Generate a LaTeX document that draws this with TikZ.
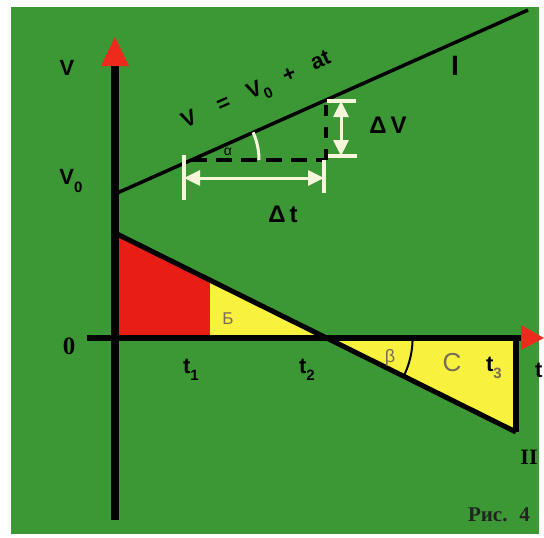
\documentclass[tikz,border=0pt]{standalone}
\usepackage{fontspec}
\setmainfont{Liberation Sans}
\newfontfamily\serf{Liberation Serif}
\usetikzlibrary{arrows.meta}
\definecolor{bggreen}{RGB}{60,152,52}
\definecolor{redfill}{RGB}{232,30,22}
\definecolor{yelfill}{RGB}{248,242,62}
\definecolor{arrred}{RGB}{238,42,28}
\definecolor{wht}{RGB}{246,246,218}
\definecolor{greylab}{RGB}{120,108,88}
\definecolor{figtext}{RGB}{35,35,35}
\newcommand{\lsub}[1]{\raisebox{-0.32em}{\fontsize{15}{15}\selectfont #1}}
\begin{document}
\begin{tikzpicture}[x=1pt,y=-1pt,
  lab/.style={inner sep=0pt, text=black, font=\bfseries\fontsize{22}{22}\selectfont},
  whitearrow/.style={draw=wht, line width=3pt, {Triangle[width=15pt,length=16pt,fill=wht]}-{Triangle[width=15pt,length=16pt,fill=wht]}},
  whitebar/.style={draw=wht, line width=4pt}]
\useasboundingbox (0,0) rectangle (544,538);
\fill[white] (0,0) rectangle (544,538);
\fill[bggreen] (11,7) rectangle (539,534);

% key points
\coordinate (vb) at (115,520);
\coordinate (vt) at (115,64);
\coordinate (vtip) at (115,37);
\coordinate (tl) at (87,338);
\coordinate (tr) at (522,338);
\coordinate (ttip) at (544,338);
\coordinate (o) at (115,338);
\coordinate (i0) at (115,194);
\coordinate (i1) at (528,10);
\coordinate (ii0) at (115,233);
\coordinate (ii1) at (516,432);
\coordinate (z) at (326.6,338);
\coordinate (p1) at (210,280);
\coordinate (q1) at (210,338);
\coordinate (e3) at (516,338);
\coordinate (d0) at (191,160);
\coordinate (d1) at (326,160);
\coordinate (d2) at (326,100);

% areas
\fill[redfill] (ii0) -- (p1) -- (q1) -- (o) -- cycle;
\fill[yelfill] (p1) -- (z) -- (q1) -- cycle;
\fill[yelfill] (z) -- (e3) -- (ii1) -- cycle;

% lines
\draw[line width=5pt] (ii0) -- (ii1);
\draw[line width=6pt] (e3) -- (ii1);
\draw[line width=6pt] (tl) -- (tr);
\draw[line width=8pt] (vb) -- (vt);
\fill[arrred] (101,66) -- (vtip) -- (129,66) -- cycle;
\fill[arrred] (521,325) -- (ttip) -- (521,350) -- cycle;
\draw[line width=3.5pt] (i0) -- (i1);

% dashed construction
\draw[line width=4pt, dash pattern=on 16pt off 9pt] (d0) -- (d1);
\draw[line width=3.5pt, dash pattern=on 11pt off 11pt] (d1) -- (d2);

% angle arcs
\draw[wht, line width=3pt] ([shift={(0:68)}]d0) arc (0:-24:68);
\draw[line width=2pt] ([shift={(0:86)}]z) arc (0:26:86);

% white dimension arrows
\coordinate (dvtop) at (341,101);
\coordinate (dvbot) at (341,156);
\draw[whitearrow] (dvtop) -- (dvbot);
\draw[whitebar] (327,101) -- (356,101);
\draw[whitebar] (328,156) -- (357,156);
\coordinate (dtl) at (184,178);
\coordinate (dtr) at (324,178);
\draw[whitearrow] (dtl) -- (dtr);
\draw[whitebar] (184,155) -- (184,200);
\draw[whitebar] (324,160) -- (324,193);

% labels
\node[lab] (lv) at (67,68) {V};
\node[lab] (lv0) at (71,181) {V\lsub{0}};
\node[lab, font=\serf\bfseries\fontsize{25}{25}\selectfont] (l0) at (69,346) {0};
\node[lab, anchor=west] (lt) at (535,370) {t};
\node[lab] (lt1) at (191,370) {t\lsub{1}};
\node[lab] (lt2) at (307,370) {t\lsub{2}};
\node[lab] (lt3) at (494,368) {t\textcolor{greylab}{\lsub{3}}};
\node[lab, text=greylab, font=\fontsize{17}{17}\selectfont] (lb) at (228,319) {Б};
\node[lab, text=greylab, font=\fontsize{26}{26}\selectfont] (lc) at (452,363) {С};
\node[lab, text=greylab, font=\fontsize{18}{18}\selectfont] (lbeta) at (390,358) {β};
\node[lab, font=\fontsize{14}{14}\selectfont] (lalpha) at (228,152) {α};
\node[lab, font=\bfseries\fontsize{28}{28}\selectfont] (lI) at (455,66) {I};
\node[lab, font=\serf\bfseries\fontsize{22}{22}\selectfont] (lII) at (529,457) {II};
\node[lab, font=\bfseries\fontsize{24}{24}\selectfont] (ldv) at (388,125) {Δ\,V};
\node[lab, font=\bfseries\fontsize{24}{24}\selectfont] (ldt) at (283,214) {Δ\,t};
\node[lab, rotate=24] (leq) at (257,92) {V\hspace{24pt}=\hspace{20pt}V\lsub{0}\hspace{16pt}+\hspace{18pt}at};
\node[lab, font=\serf\bfseries\fontsize{21}{21}\selectfont, text=figtext] (lfig) at (499,515) {Рис.\hspace{12pt}4};
\end{tikzpicture}
\end{document}
